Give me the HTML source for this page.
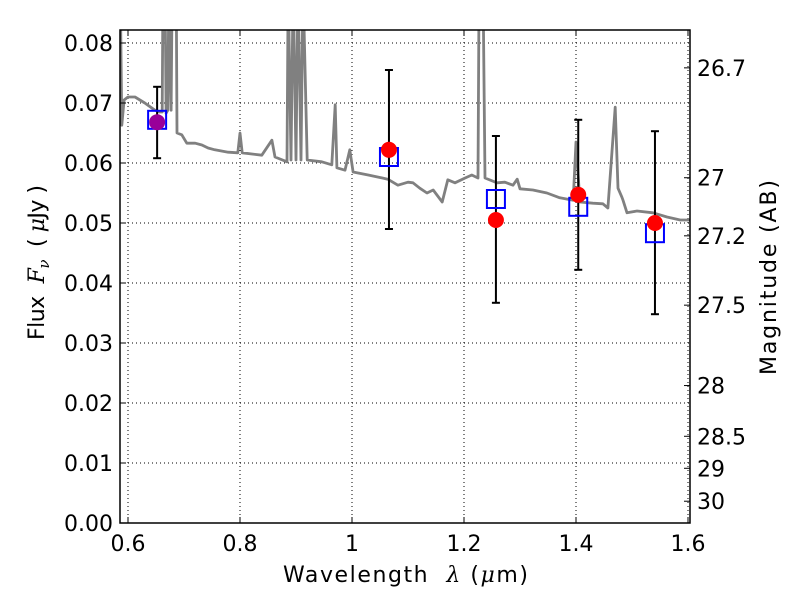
<!DOCTYPE html>
<html><head><meta charset="utf-8"><style>
html,body{margin:0;padding:0;background:#fff;}
svg{display:block;font-family:"DejaVu Sans","Liberation Sans",sans-serif;}
</style></head><body>
<svg id="c" width="800" height="600" xmlns="http://www.w3.org/2000/svg"></svg>
<script>
const xTicks=[0.6,0.8,1.0,1.2,1.4,1.6];
const xTickLabels=["0.6","0.8","1","1.2","1.4","1.6"];
const yTicks=[0,0.01,0.02,0.03,0.04,0.05,0.06,0.07,0.08];
const yTickLabels=["0.00","0.01","0.02","0.03","0.04","0.05","0.06","0.07","0.08"];
const magTicks=[26.7,27,27.2,27.5,28,28.5,29,30];
const magTickLabels=["26.7","27","27.2","27.5","28","28.5","29","30"];
const specWl=[0.586,0.589,0.593,0.600,0.6125,0.630,0.648,0.657,0.661,0.6625,0.666,0.668,0.671,0.673,0.677,0.679,0.686,0.6875,0.696,0.705,0.720,0.732,0.743,0.755,0.779,0.796,0.800,0.804,0.839,0.857,0.8625,0.884,0.886,0.891,0.895,0.900,0.9036,0.909,0.9125,0.920,0.946,0.964,0.970,0.973,0.9875,0.996,1.002,1.029,1.064,1.082,1.100,1.109,1.121,1.134,1.145,1.161,1.171,1.184,1.202,1.214,1.225,1.227,1.234,1.2375,1.259,1.273,1.2875,1.295,1.300,1.323,1.348,1.371,1.395,1.400,1.407,1.430,1.448,1.457,1.470,1.475,1.482,1.484,1.491,1.509,1.5375,1.5625,1.586,1.604];
const specFlux=[0.09,0.0663,0.0705,0.0710,0.0710,0.0700,0.0688,0.0685,0.0685,0.09,0.09,0.0683,0.0688,0.09,0.0688,0.09,0.09,0.0650,0.0647,0.0633,0.0633,0.0630,0.0625,0.0622,0.0618,0.0617,0.0650,0.0617,0.0613,0.0638,0.0610,0.0602,0.09,0.0605,0.09,0.0605,0.09,0.0605,0.09,0.0605,0.0602,0.0597,0.0697,0.0592,0.0588,0.0622,0.0585,0.0580,0.0573,0.0563,0.0568,0.0567,0.0558,0.0550,0.0555,0.0535,0.0572,0.0567,0.0575,0.0580,0.0575,0.09,0.09,0.0575,0.0567,0.0568,0.0563,0.0573,0.0557,0.0555,0.0550,0.0542,0.0538,0.0635,0.0535,0.0533,0.0532,0.0525,0.0693,0.0558,0.0543,0.0538,0.0517,0.0520,0.0517,0.0510,0.0505,0.0505];
const obsWl=[0.652,1.066,1.257,1.404,1.541];
const obsFlux=[0.0668,0.0622,0.0505,0.0547,0.0500];
const errHi=[0.0727,0.0755,0.0645,0.0672,0.0653];
const errLo=[0.0608,0.0490,0.0367,0.0422,0.0348];
const modelFlux=[0.0672,0.0610,0.0540,0.0527,0.0483];

const L=120,R=690,T=30,B=523;
const X=v=>128+(v-0.6)*560;
const Y=v=>523-v*6000;
const M=m=>Y(Math.pow(10,(23.9-m)/2.5));
const svg=document.getElementById('c');
const NS='http://www.w3.org/2000/svg';
function mk(tag,attrs,parent){const e=document.createElementNS(NS,tag);for(const k in attrs)e.setAttribute(k,attrs[k]);(parent||svg).appendChild(e);return e;}

const defs=mk('defs',{});
const cp=mk('clipPath',{id:'pc'},defs);
mk('rect',{x:L,y:T,width:R-L,height:B-T},cp);

const grid=mk('g',{});


xTicks.forEach(t=>{const x=X(t);if(x>L&&x<R)mk('line',{x1:x,y1:T,x2:x,y2:B,stroke:'#000','stroke-width':1,'stroke-dasharray':'1,3'},grid);});
yTicks.forEach(t=>{const y=Y(t);if(y>T&&y<B)mk('line',{x1:L,y1:y,x2:R,y2:y,stroke:'#000','stroke-width':1,'stroke-dasharray':'1,3'},grid);});

let d='';
specWl.forEach((w,i)=>{d+=(i?'L':'M')+X(w).toFixed(1)+','+Y(specFlux[i]).toFixed(1);});
const sp=mk('path',{d:d,fill:'none',stroke:'#808080','stroke-width':2.8,'stroke-linejoin':'round','clip-path':'url(#pc)'});



obsWl.forEach((w,i)=>{
  const g=mk('g',{});
  
  
  const x=X(w);
  mk('line',{x1:x,y1:Y(errHi[i]),x2:x,y2:Y(errLo[i]),stroke:'#000','stroke-width':2},g);
  mk('line',{x1:x-4,y1:Y(errHi[i]),x2:x+4,y2:Y(errHi[i]),stroke:'#000','stroke-width':2},g);
  mk('line',{x1:x-4,y1:Y(errLo[i]),x2:x+4,y2:Y(errLo[i]),stroke:'#000','stroke-width':2},g);
});
obsWl.forEach((w,i)=>{
  const r=mk('rect',{x:X(w)-9,y:Y(modelFlux[i])-9,width:18,height:18,fill:'none',stroke:'#0000ff','stroke-width':2});
  
  
});
obsWl.forEach((w,i)=>{
  const c=mk('circle',{cx:X(w),cy:Y(obsFlux[i]),r:8,fill:i===0?'#990099':'#ff0000'});
  
  
});

const fr=mk('rect',{x:L,y:T,width:R-L,height:B-T,fill:'none',stroke:'#000','stroke-width':1.5});



const xa=mk('g',{});


xTicks.forEach((t,i)=>{const x=X(t);
  mk('line',{x1:x,y1:B,x2:x,y2:B-6,stroke:'#000'},xa);
  mk('line',{x1:x,y1:T,x2:x,y2:T+6,stroke:'#000'},xa);
  const tx=mk('text',{x:x,y:B+28,'font-size':22,'text-anchor':'middle'},xa);tx.textContent=xTickLabels[i];});
const ya=mk('g',{});


yTicks.forEach((t,i)=>{const y=Y(t);
  mk('line',{x1:L,y1:y,x2:L+6,y2:y,stroke:'#000'},ya);
  const tx=mk('text',{x:L-7,y:y+8,'font-size':22,'text-anchor':'end'},ya);tx.textContent=yTickLabels[i];});
const ma=mk('g',{});


magTicks.forEach((m,i)=>{const y=M(m);
  mk('line',{x1:R,y1:y,x2:R-6,y2:y,stroke:'#000'},ma);
  const tx=mk('text',{x:R+7,y:y+8,'font-size':22},ma);tx.textContent=magTickLabels[i];});
</script>
<svg width="800" height="600" style="position:absolute;left:0;top:0;" xmlns="http://www.w3.org/2000/svg">
<text x="283" y="582" font-size="22" textLength="245" lengthAdjust="spacing">Wavelength&#160;&#160;<tspan font-style="italic" font-family="DejaVu Serif, serif">λ</tspan> (<tspan font-style="italic" font-family="DejaVu Serif, serif">μ</tspan>m)</text>
<text transform="translate(44,340) rotate(-90)" font-size="22" textLength="155" lengthAdjust="spacing">Flux&#160;&#160;<tspan font-style="italic" font-family="DejaVu Serif, serif">F</tspan><tspan font-style="italic" font-family="DejaVu Serif, serif" font-size="15" dy="5">ν</tspan><tspan dy="-5">&#160;&#160;( </tspan><tspan font-style="italic" font-family="DejaVu Serif, serif">μ</tspan>Jy )</text>
<text transform="translate(776,375) rotate(-90)" font-size="22" textLength="195" lengthAdjust="spacing">Magnitude (AB)</text>
</svg>
</body></html>
